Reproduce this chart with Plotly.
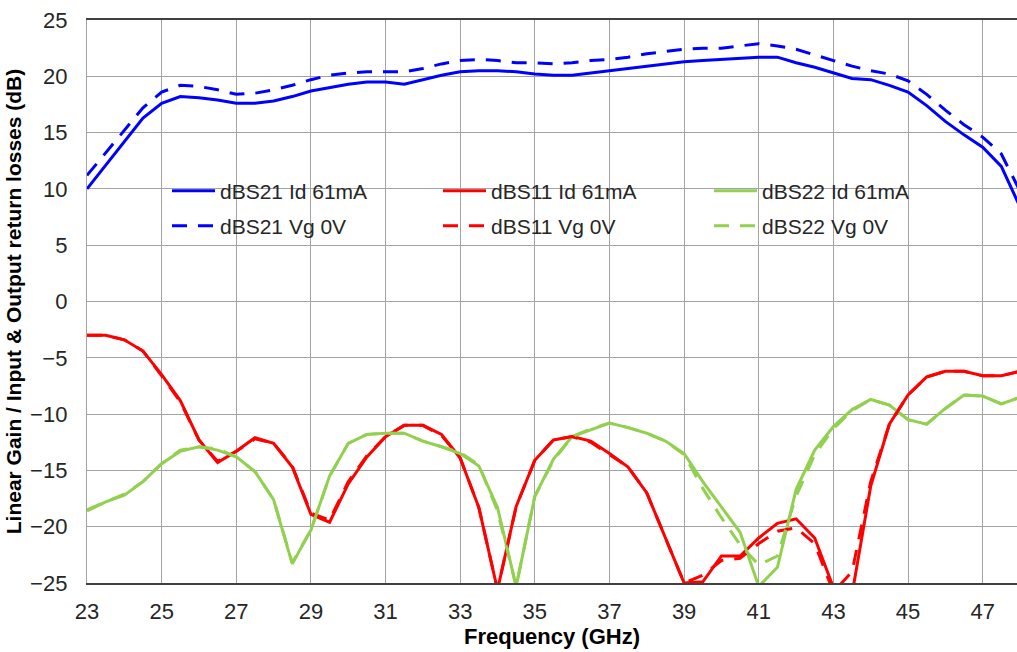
import plotly.graph_objects as go

# Frequency sweep (GHz)
freq = [23, 23.5, 24, 24.5, 25, 25.5, 26, 26.5, 27, 27.5, 28, 28.5, 29, 29.5,
        30, 30.5, 31, 31.5, 32, 32.5, 33, 33.5, 34, 34.5, 35, 35.5, 36, 36.5,
        37, 37.5, 38, 38.5, 39, 39.5, 40, 40.5, 41, 41.5, 42, 42.5, 43, 43.5,
        44, 44.5, 45, 45.5, 46, 46.5, 47, 47.5, 48]

# Linear gain (dB)
s21_id = [10.0, 12.1, 14.2, 16.3, 17.6, 18.2, 18.1, 17.9, 17.6, 17.6, 17.8, 18.2,
          18.7, 19.0, 19.3, 19.5, 19.5, 19.3, 19.7, 20.1, 20.4, 20.5, 20.5, 20.4,
          20.2, 20.1, 20.1, 20.3, 20.5, 20.7, 20.9, 21.1, 21.3, 21.4, 21.5, 21.6,
          21.7, 21.7, 21.2, 20.8, 20.3, 19.8, 19.7, 19.2, 18.6, 17.4, 16.0, 14.8,
          13.7, 12.0, 8.4]
s21_vg = [11.2, 13.2, 15.2, 17.2, 18.6, 19.2, 19.1, 18.8, 18.4, 18.5, 18.8, 19.2,
          19.7, 20.1, 20.3, 20.4, 20.4, 20.4, 20.7, 21.1, 21.4, 21.5, 21.4, 21.2,
          21.2, 21.1, 21.2, 21.4, 21.5, 21.7, 22.0, 22.2, 22.4, 22.5, 22.5, 22.7,
          22.9, 22.7, 22.4, 21.9, 21.4, 20.9, 20.5, 20.2, 19.6, 18.4, 17.0, 15.7,
          14.6, 13.1, 9.8]

# Input return loss (dB)
s11_id = [-3.0, -3.0, -3.4, -4.4, -6.5, -8.8, -12.3, -14.3, -13.3, -12.1, -12.6,
          -14.7, -18.9, -19.6, -16.2, -13.8, -12.0, -11.0, -11.0, -11.8, -13.9,
          -18.3, -25.6, -18.2, -14.1, -12.3, -12.0, -12.4, -13.5, -14.7, -17.0,
          -21.0, -25.0, -24.9, -22.6, -22.6, -21.0, -19.7, -19.3, -21.0, -25.4,
          -26.0, -16.4, -10.9, -8.3, -6.7, -6.2, -6.2, -6.6, -6.6, -6.2]
s11_vg = [-3.0, -3.0, -3.4, -4.4, -6.6, -8.9, -12.3, -14.2, -13.3, -12.2, -12.6,
          -14.6, -18.8, -19.4, -16.0, -13.7, -12.0, -11.0, -11.0, -11.9, -13.9,
          -18.3, -25.6, -18.2, -14.1, -12.3, -12.0, -12.5, -13.6, -14.7, -17.0,
          -21.0, -25.0, -24.3, -23.0, -22.8, -21.5, -20.4, -20.1, -21.5, -25.8,
          -24.0, -16.0, -10.9, -8.3, -6.7, -6.2, -6.2, -6.6, -6.6, -6.2]

# Output return loss (dB)
s22_id = [-18.6, -17.8, -17.2, -16.0, -14.4, -13.3, -12.9, -13.2, -13.8, -15.1,
          -17.6, -23.3, -20.3, -15.5, -12.6, -11.8, -11.7, -11.7, -12.4, -12.9,
          -13.5, -14.6, -18.3, -25.3, -17.3, -14.0, -12.0, -11.4, -10.8, -11.2,
          -11.7, -12.4, -13.5, -16.0, -18.2, -20.5, -25.3, -23.6, -16.7, -13.2,
          -11.1, -9.6, -8.7, -9.2, -10.5, -10.9, -9.5, -8.3, -8.4, -9.1, -8.5]
s22_vg = [-18.5, -17.8, -17.1, -16.0, -14.4, -13.2, -12.9, -13.1, -13.8, -15.1,
          -17.6, -23.2, -20.3, -15.5, -12.6, -11.8, -11.7, -11.7, -12.4, -12.9,
          -13.4, -14.5, -18.6, -25.3, -17.3, -14.1, -12.0, -11.3, -10.8, -11.2,
          -11.7, -12.4, -13.6, -16.6, -19.2, -21.6, -23.4, -22.6, -17.3, -13.6,
          -11.3, -9.7, -8.7, -9.2, -10.5, -10.9, -9.5, -8.3, -8.4, -9.1, -8.5]

BLUE, RED, GREEN = "#0000ff", "#ff0000", "#92d050"
DASH = "15px,11px"

series = [
    ("dBS21 Id 61mA", s21_id, BLUE, "solid", "legend"),
    ("dBS11 Id 61mA", s11_id, RED, "solid", "legend"),
    ("dBS22 Id 61mA", s22_id, GREEN, "solid", "legend"),
    ("dBS21 Vg 0V", s21_vg, BLUE, DASH, "legend2"),
    ("dBS11 Vg 0V", s11_vg, RED, DASH, "legend2"),
    ("dBS22 Vg 0V", s22_vg, GREEN, DASH, "legend2"),
]

fig = go.Figure()
for name, vals, color, dash, leg in series:
    fig.add_trace(go.Scatter(
        x=freq, y=vals, name=name, mode="lines", legend=leg,
        line=dict(color=color, width=3, dash=dash),
    ))

L, R, T, B = 87, 0, 20, 69
W, H = 1017, 652
pw, ph = W - L - R, H - T - B


def px_x(p):
    return (p - L) / pw


def px_y(p):
    return 1 - (p - T) / ph


grid = "#a3a3a3"
font = "Liberation Sans, Arial, sans-serif"
text_col = "#262626"

legend_common = dict(
    orientation="h", xanchor="left", yanchor="middle",
    entrywidth=213, entrywidthmode="pixels", itemwidth=43,
    bgcolor="rgba(0,0,0,0)", borderwidth=0,
    font=dict(family=font, size=21, color=text_col),
)

fig.update_layout(
    width=W, height=H,
    margin=dict(l=L, r=R, t=T, b=B),
    plot_bgcolor="white", paper_bgcolor="white",
    font=dict(family=font, size=22, color=text_col),
    legend=dict(x=px_x(167), y=px_y(191), **legend_common),
    legend2=dict(x=px_x(167), y=px_y(226), **legend_common),
    shapes=[dict(type="rect", xref="paper", yref="paper",
                 x0=px_x(138), x1=px_x(955), y0=px_y(245), y1=px_y(175),
                 fillcolor="white", line=dict(width=0), layer="between")],
)

fig.update_xaxes(
    range=[23, 47.92], tickvals=[23, 25, 27, 29, 31, 33, 35, 37, 39, 41, 43, 45, 47],
    showgrid=True, gridcolor=grid, gridwidth=1.3, zeroline=False,
    showline=True, linecolor="#404040", linewidth=1.5, mirror=True,
    ticks="", ticklabelstandoff=8,
    tickfont=dict(family=font, size=22, color=text_col),
    title=dict(text="Frequency (GHz)", standoff=2,
               font=dict(family=font, size=22, color="#000000", weight="bold")),
)
fig.update_yaxes(
    range=[-25, 25], dtick=5,
    showgrid=True, gridcolor=grid, gridwidth=1.3, zeroline=False,
    showline=True, linecolor=grid, linewidth=1.3,
    ticks="", ticklabelstandoff=14,
    tickfont=dict(family=font, size=22, color=text_col),
    title=dict(text="Linear Gain / Input & Output return losses (dB)", standoff=2,
               font=dict(family=font, size=21, color="#000000", weight="bold")),
)

fig.write_html("out.html")
